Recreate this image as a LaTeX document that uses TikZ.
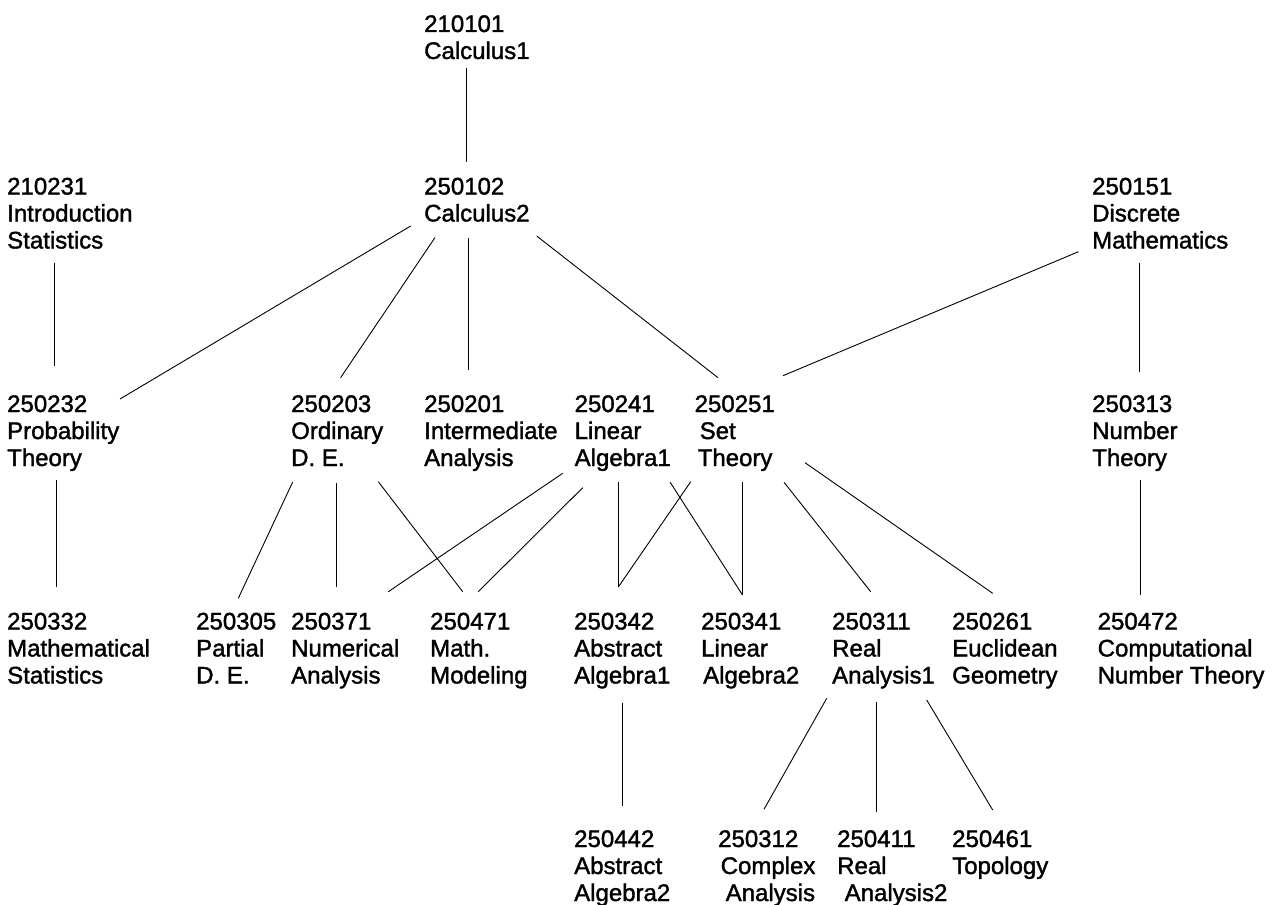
\documentclass[tikz,border=0pt]{standalone}
\usepackage{fontspec}
\setmainfont{Liberation Sans}[FakeBold=1.5]

\begin{document}
\begin{tikzpicture}[x=1pt,y=-1pt,
  course/.style={anchor=base west,inner sep=0pt,align=left,font=\fontsize{24}{27}\selectfont},
  link/.style={line width=0.9pt}]
\useasboundingbox (0,0) rectangle (1273,904);
% first and second year (nodes sit on the baseline of their last line)
\node[course] (calcA) at (424,59) {210101\\Calculus1};
\node[course] (calcB) at (424,221.5) {250102\\Calculus2};
\node[course] (intro) at (7,248.5) {210231\\Introduction\\Statistics};
\node[course] (discrete) at (1092,248.5) {250151\\Discrete\\Mathematics};
\node[course] (prob) at (7,466) {250232\\Probability\\Theory};
\node[course] (ode) at (291,466) {250203\\Ordinary\\D. E.};
\node[course] (interm) at (424,466) {250201\\Intermediate\\Analysis};
\node[course] (linA) at (574.5,466) {250241\\Linear\\Algebra1};
\node[course] (setth) at (694.5,466) {250251\\\hspace{5pt}Set\\\hspace{3pt}Theory};
\node[course] (number) at (1092,466) {250313\\Number\\Theory};
% third year
\node[course] (mstat) at (7,683.5) {250332\\Mathematical\\Statistics};
\node[course] (pde) at (196,683.5) {250305\\Partial\\D. E.};
\node[course] (numan) at (291,683.5) {250371\\Numerical\\Analysis};
\node[course] (model) at (430,683.5) {250471\\Math.\\Modeling};
\node[course] (absA) at (574,683.5) {250342\\Abstract\\Algebra1};
\node[course] (linB) at (701,683.5) {250341\\Linear\\\hspace{2pt}Algebra2};
\node[course] (realA) at (832,683.5) {250311\\Real\\Analysis1};
\node[course] (euclid) at (952,683.5) {250261\\Euclidean\\Geometry};
\node[course] (comput) at (1097.5,683.5) {250472\\Computational\\Number Theory};
% fourth year
\node[course] (absB) at (574,901) {250442\\Abstract\\Algebra2};
\node[course] (complex) at (718,901) {250312\\\hspace{2.5pt}Complex\\\hspace{7.5pt}Analysis};
\node[course] (realB) at (837,901) {250411\\Real\\\hspace{7.5pt}Analysis2};
\node[course] (topo) at (952,874) {250461\\Topology};
% prerequisites
\draw[link] ([shift={(42.7,9)}]calcA.base west) -- ([shift={(42.7,-59.5)}]calcB.base west);
\draw[link] ([shift={(47.3,14.2)}]intro.base west) -- ([shift={(47.3,-100.3)}]prob.base west);
\draw[link] ([shift={(-13.3,4.5)}]calcB.base west) -- ([shift={(113,-67)}]prob.base west);
\draw[link] ([shift={(11,16)}]calcB.base west) -- ([shift={(49.6,-88.3)}]ode.base west);
\draw[link] ([shift={(44.4,16)}]calcB.base west) -- ([shift={(44.4,-96)}]interm.base west);
\draw[link] ([shift={(112.7,14.5)}]calcB.base west) -- ([shift={(23.5,-88.3)}]setth.base west);
\draw[link] ([shift={(-13.5,3.2)}]discrete.base west) -- ([shift={(88.5,-90.3)}]setth.base west);
\draw[link] ([shift={(47,14)}]discrete.base west) -- ([shift={(47,-94.3)}]number.base west);
\draw[link] ([shift={(49,14)}]prob.base west) -- ([shift={(49,-96.5)}]mstat.base west);
\draw[link] ([shift={(1.7,16)}]ode.base west) -- ([shift={(42.3,-85.2)}]pde.base west);
\draw[link] ([shift={(45,16.5)}]ode.base west) -- ([shift={(45,-96.2)}]numan.base west);
\draw[link] ([shift={(87.3,15.7)}]ode.base west) -- ([shift={(32.7,-91.8)}]model.base west);
\draw[link] ([shift={(-11.8,7.3)}]linA.base west) -- ([shift={(97.3,-91.8)}]numan.base west);
\draw[link] ([shift={(8.2,21.7)}]linA.base west) -- ([shift={(48.3,-91.8)}]model.base west);
\draw[link] ([shift={(43.8,16.3)}]linA.base west) -- ([shift={(44.3,-96.5)}]absA.base west);
\draw[link] ([shift={(95.5,16)}]linA.base west) -- ([shift={(41.5,-88.5)}]linB.base west);
\draw[link] ([shift={(-3.8,15.7)}]setth.base west) -- ([shift={(44.3,-96.5)}]absA.base west);
\draw[link] ([shift={(48,16.3)}]setth.base west) -- ([shift={(41.5,-88.5)}]linB.base west);
\draw[link] ([shift={(89.5,16.3)}]setth.base west) -- ([shift={(38.7,-91.8)}]realA.base west);
\draw[link] ([shift={(110.5,-3.3)}]setth.base west) -- ([shift={(40.7,-90.2)}]euclid.base west);
\draw[link] ([shift={(48,14)}]number.base west) -- ([shift={(42.5,-88.5)}]comput.base west);
\draw[link] ([shift={(48.3,19.2)}]absA.base west) -- ([shift={(48.3,-95)}]absB.base west);
\draw[link] ([shift={(-5.3,14.8)}]realA.base west) -- ([shift={(46,-91.7)}]complex.base west);
\draw[link] ([shift={(44,18.5)}]realA.base west) -- ([shift={(39,-89.3)}]realB.base west);
\draw[link] ([shift={(94.7,16.5)}]realA.base west) -- ([shift={(40.7,-64)}]topo.base west);
\end{tikzpicture}
\end{document}
